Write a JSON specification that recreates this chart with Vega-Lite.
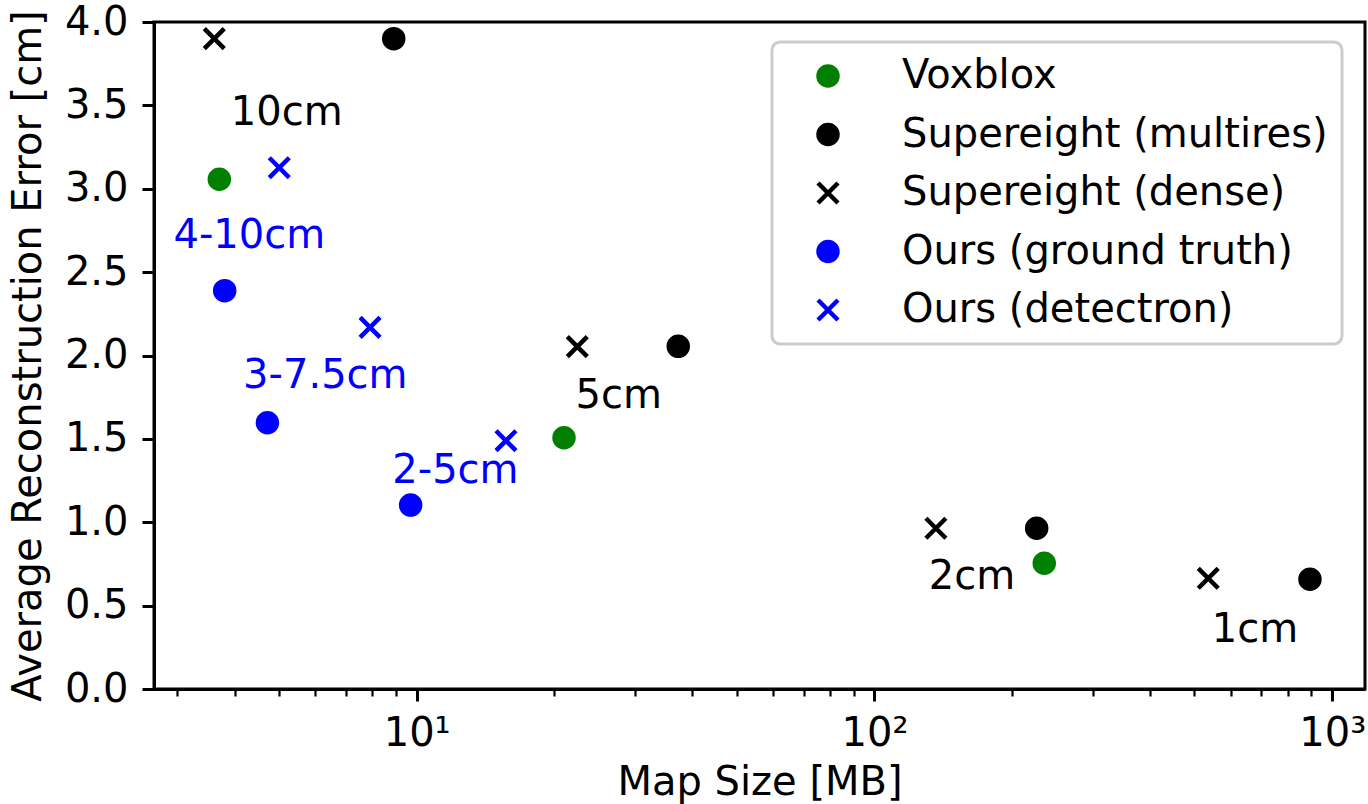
{
  "$schema": "https://vega.github.io/schema/vega-lite/v6.json",
  "width": 1211,
  "height": 667,
  "autosize": {"type": "none"},
  "padding": {"left": 154, "top": 22, "right": 3, "bottom": 115},
  "background": "white",
  "config": {
    "font": "DejaVu Sans",
    "view": {"stroke": "black", "strokeWidth": 3},
    "axis": {
      "grid": false,
      "domainColor": "black",
      "domainWidth": 3,
      "tickColor": "black",
      "tickWidth": 3,
      "labelFont": "DejaVu Sans",
      "labelFontSize": 40,
      "labelColor": "black",
      "titleFont": "DejaVu Sans",
      "titleFontSize": 40,
      "titleFontWeight": "normal",
      "titleColor": "black"
    }
  },
  "resolve": {"axis": {"x": "independent"}},
  "encoding": {
    "y": {
      "field": "error",
      "type": "quantitative",
      "scale": {"domain": [0, 4], "nice": false},
      "axis": {
        "title": "Average Reconstruction Error [cm]",
        "values": [0, 0.5, 1, 1.5, 2, 2.5, 3, 3.5, 4],
        "format": ".1f",
        "tickSize": 12,
        "labelPadding": 14,
        "titlePadding": 16
      }
    }
  },
  "layer": [
    {
      "data": {"values": [
        {"size": 5.20, "error": 3.382, "label": "10cm"},
        {"size": 27.62, "error": 1.683, "label": "5cm"},
        {"size": 163.3, "error": 0.598, "label": "2cm"},
        {"size": 678.2, "error": 0.284, "label": "1cm"}
      ]},
      "mark": {"type": "text", "font": "DejaVu Sans", "fontSize": 40, "baseline": "alphabetic", "align": "center", "color": "black"},
      "encoding": {
        "x": {
          "field": "size",
          "type": "quantitative",
          "scale": {"type": "log", "domain": [2.668, 1179], "nice": false, "zero": false},
          "axis": {
            "title": "Map Size [MB]",
            "orient": "bottom",
            "values": [10, 100, 1000],
            "labelExpr": "datum.value == 10 ? '10¹' : datum.value == 100 ? '10²' : '10³'",
            "tickSize": 12,
            "labelOverlap": false,
            "labelFlush": false,
            "labelBound": false,
            "labelPadding": 12,
            "titlePadding": 9
          }
        },
        "text": {"field": "label"}
      }
    },
    {
      "data": {"values": [
        {"size": 4.31, "error": 2.643, "label": "4-10cm"},
        {"size": 6.315, "error": 1.803, "label": "3-7.5cm"},
        {"size": 12.15, "error": 1.237, "label": "2-5cm"}
      ]},
      "mark": {"type": "text", "font": "DejaVu Sans", "fontSize": 40, "baseline": "alphabetic", "align": "center", "color": "#0000ff"},
      "encoding": {
        "x": {"field": "size", "type": "quantitative", "axis": null},
        "text": {"field": "label"}
      }
    },
    {
      "data": {"values": [
        {"method": "Voxblox", "size": 3.706, "error": 3.057},
        {"method": "Voxblox", "size": 20.98, "error": 1.507},
        {"method": "Voxblox", "size": 234.9, "error": 0.754},
        {"method": "Supereight (multires)", "size": 8.91, "error": 3.90},
        {"method": "Supereight (multires)", "size": 37.27, "error": 2.055},
        {"method": "Supereight (multires)", "size": 226.1, "error": 0.964},
        {"method": "Supereight (multires)", "size": 893.9, "error": 0.658},
        {"method": "Supereight (dense)", "size": 3.613, "error": 3.90},
        {"method": "Supereight (dense)", "size": 22.43, "error": 2.053},
        {"method": "Supereight (dense)", "size": 136.2, "error": 0.964},
        {"method": "Supereight (dense)", "size": 535.9, "error": 0.664},
        {"method": "Ours (ground truth)", "size": 3.807, "error": 2.389},
        {"method": "Ours (ground truth)", "size": 4.72, "error": 1.597},
        {"method": "Ours (ground truth)", "size": 9.70, "error": 1.103},
        {"method": "Ours (detectron)", "size": 5.01, "error": 3.126},
        {"method": "Ours (detectron)", "size": 7.91, "error": 2.169},
        {"method": "Ours (detectron)", "size": 15.67, "error": 1.489}
      ]},
      "mark": {"type": "point", "filled": true, "size": 361, "strokeWidth": 4.5, "opacity": 1},
      "encoding": {
        "x": {
          "field": "size",
          "type": "quantitative",
          "axis": {
            "title": null,
            "orient": "bottom",
            "values": [3, 4, 5, 6, 7, 8, 9, 20, 30, 40, 50, 60, 70, 80, 90, 200, 300, 400, 500, 600, 700, 800, 900],
            "labels": false,
            "domain": false,
            "tickSize": 7,
            "tickWidth": 2.2
          }
        },
        "fill": {
          "field": "method",
          "type": "nominal",
          "scale": {"domain": ["Voxblox", "Supereight (multires)", "Supereight (dense)", "Ours (ground truth)", "Ours (detectron)"], "range": ["#008000", "#000000", "#000000", "#0000ff", "#0000ff"]},
          "legend": {
            "title": null,
            "orient": "none",
            "legendX": 618,
            "legendY": 20,
            "padding": 14,
            "strokeColor": "#cccccc",
            "cornerRadius": 8,
            "fillColor": "white",
            "labelFont": "DejaVu Sans",
            "labelFontSize": 40,
            "labelColor": "black",
            "labelLimit": 1000,
            "symbolSize": 361,
            "symbolStrokeWidth": 4.5,
            "symbolOpacity": 1,
            "symbolOffset": 22,
            "labelOffset": 54,
            "rowPadding": 18.5,
            "encode": {"legend": {"update": {"strokeWidth": {"value": 3}}}}
          }
        },
        "stroke": {
          "field": "method",
          "type": "nominal",
          "scale": {"domain": ["Voxblox", "Supereight (multires)", "Supereight (dense)", "Ours (ground truth)", "Ours (detectron)"], "range": ["#008000", "#000000", "#000000", "#0000ff", "#0000ff"]}
        },
        "shape": {
          "field": "method",
          "type": "nominal",
          "scale": {"domain": ["Voxblox", "Supereight (multires)", "Supereight (dense)", "Ours (ground truth)", "Ours (detectron)"], "range": ["circle", "circle", "M-1.05,-1.05L1.05,1.05M1.05,-1.05L-1.05,1.05", "circle", "M-1.05,-1.05L1.05,1.05M1.05,-1.05L-1.05,1.05"]}
        }
      }
    }
  ]
}
